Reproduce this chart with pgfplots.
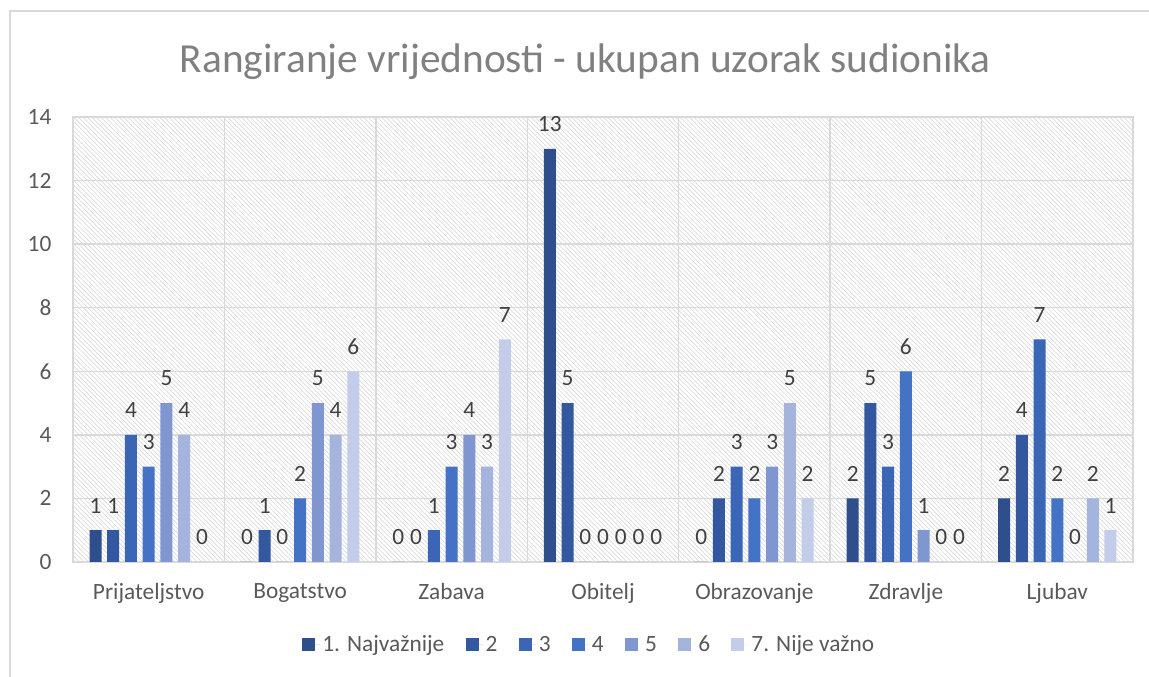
\documentclass[border=0pt]{standalone}
\usepackage{pgfplots}
\pgfplotsset{compat=1.18}
\usepackage{fontspec}
\setmainfont{Carlito}
\usetikzlibrary{patterns.meta}
\definecolor{s1}{HTML}{2E4E8C}
\definecolor{s2}{HTML}{33589F}
\definecolor{s3}{HTML}{3A66B5}
\definecolor{s4}{HTML}{4472C4}
\definecolor{s5}{HTML}{7F96D1}
\definecolor{s6}{HTML}{A5B4DC}
\definecolor{s7}{HTML}{C3CDE9}
\definecolor{txt}{HTML}{595959}
\definecolor{lbl}{HTML}{404040}
\definecolor{grd}{HTML}{D9D9D9}
\begin{document}
\begin{tikzpicture}
\path[use as bounding box] (0,0) rectangle (861.75pt,507.75pt);
\draw[grd, line width=0.8pt] (7.5pt,0) -- (7.5pt,499.5pt) -- (861.75pt,499.5pt);
\node[text=gray, font=\fontsize{31}{36}\selectfont] at (439pt,461.25pt) {Rangiranje vrijednosti - ukupan uzorak sudionika};
\begin{axis}[
  at={(54.75pt,86.25pt)}, anchor=south west,
  scale only axis, width=795pt, height=333.75pt,
  ybar=4.3pt, bar width=9pt,
  xmin=-0.5, xmax=6.5, ymin=0, ymax=14,
  ytick={0,2,...,14},
  xtick={0,...,6},
  xticklabels={Prijateljstvo,Bogatstvo,Zabava,Obitelj,Obrazovanje,Zdravlje,Ljubav},
  minor xtick={0.5,1.5,...,5.5},
  xminorgrids=true, ymajorgrids=true,
  grid style={grd, line width=1.1pt},
  minor grid style={grd, line width=1.1pt},
  major tick length=0pt, minor tick length=0pt,
  axis line style={grd, line width=1.1pt},
  axis background/.style={pattern={Lines[angle=-45, distance=2.4pt, line width=0.5pt]}, pattern color=grd},
  tick label style={text=txt, font=\fontsize{17.5}{20}\selectfont},
  xticklabel style={inner sep=0pt, yshift=-16pt},
  yticklabel style={inner sep=0pt, anchor=east, xshift=-16pt},
  nodes near coords,
  every node near coord/.append style={text=lbl, font=\fontsize{17.5}{20}\selectfont, inner sep=0pt, yshift=12.5pt},
  legend columns=7,
  legend style={draw=none, fill=none, at={(0.4874,-0.1858)}, anchor=center,
    font=\fontsize{17.5}{20}\selectfont, text=txt,
    /tikz/every even column/.append style={column sep=14pt}},
  legend image code/.code={\fill[#1] (0pt,-4.9pt) rectangle (9.75pt,4.9pt); \path (0pt,0pt) -- (13pt,0pt);},
  /pgf/number format/assume math mode=true,
]
\addplot[fill=s1, draw=none] coordinates {(0,1) (1,0) (2,0) (3,13) (4,0) (5,2) (6,2)};
\addplot[fill=s2, draw=none] coordinates {(0,1) (1,1) (2,0) (3,5) (4,2) (5,5) (6,4)};
\addplot[fill=s3, draw=none] coordinates {(0,4) (1,0) (2,1) (3,0) (4,3) (5,3) (6,7)};
\addplot[fill=s4, draw=none] coordinates {(0,3) (1,2) (2,3) (3,0) (4,2) (5,6) (6,2)};
\addplot[fill=s5, draw=none] coordinates {(0,5) (1,5) (2,4) (3,0) (4,3) (5,1) (6,0)};
\addplot[fill=s6, draw=none] coordinates {(0,4) (1,4) (2,3) (3,0) (4,5) (5,0) (6,2)};
\addplot[fill=s7, draw=none] coordinates {(0,0) (1,6) (2,7) (3,0) (4,2) (5,0) (6,1)};
\legend{1. Najvažnije,2,3,4,5,6,7. Nije važno}
\end{axis}
\end{tikzpicture}
\end{document}
